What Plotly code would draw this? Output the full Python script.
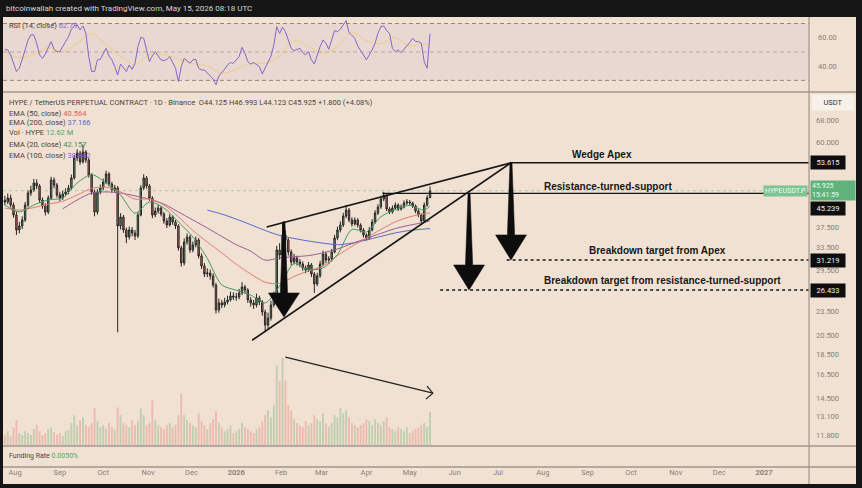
import numpy as np
import pandas as pd
import plotly.graph_objects as go

# ---------------- DATA ----------------
bar_start = "2025-07-25"          # 2-day bars, last bar ends 2026-05-15
first_open = 43.50
close = [
    43.10, 44.07, 42.39, 40.10, 36.90, 37.73, 39.00, 42.39, 45.32, 46.08,
    47.91, 47.12, 43.58, 42.15, 40.77, 44.07, 48.72, 47.38, 44.82, 44.07,
    45.07, 45.58, 46.60, 49.26, 55.05, 56.61, 53.86, 56.93, 54.45, 50.09,
    45.58, 40.77, 45.58, 46.60, 48.18, 50.37, 47.65, 46.08, 46.60, 37.73,
    39.66, 36.90, 35.49, 36.90, 36.29, 35.69, 40.10, 46.60, 49.26, 47.12,
    44.07, 40.10, 41.00, 41.69, 40.32, 38.79, 37.94, 39.66, 38.57, 37.73,
    33.39, 30.72, 34.52, 35.49, 33.02, 33.95, 34.91, 31.94, 30.21, 28.90,
    29.06, 28.58, 27.18, 23.66, 24.60, 24.33, 24.73, 25.01, 25.57, 25.40,
    25.43, 26.00, 26.88, 26.43, 25.01, 24.60, 24.33, 25.29, 24.73, 23.39,
    21.75, 22.62, 24.33, 25.57, 33.02, 32.11, 35.89, 34.91, 32.65, 30.89,
    31.58, 30.89, 30.55, 29.88, 29.55, 30.38, 28.90, 27.34, 28.58, 30.55,
    32.29, 31.23, 31.40, 32.65, 35.30, 36.90, 37.94, 39.88, 41.23, 39.00,
    38.15, 39.00, 37.94, 36.90, 35.89, 35.30, 36.90, 38.57, 40.55, 41.92,
    43.82, 44.82, 41.46, 40.77, 41.69, 42.39, 41.46, 41.92, 42.86, 43.10,
    42.86, 42.15, 41.00, 40.10, 38.79, 42.39, 44.125, 45.925,
]
high = [
    44.6, 45.2, 44.9, 43.0, 40.8, 38.6, 39.8, 43.1, 46.0, 47.2,
    49.0, 48.9, 47.6, 44.2, 42.8, 44.7, 49.6, 49.4, 47.9, 45.6,
    45.9, 46.5, 47.4, 50.2, 55.9, 57.8, 57.3, 59.3, 57.5, 55.0,
    50.6, 46.2, 46.3, 47.5, 49.1, 51.3, 50.9, 48.2, 47.4, 47.1,
    40.5, 40.1, 37.4, 37.6, 37.5, 36.9, 40.7, 47.3, 50.3, 49.8,
    47.6, 44.5, 41.8, 42.4, 42.1, 40.8, 39.4, 40.3, 40.1, 39.0,
    38.1, 33.8, 35.2, 36.2, 35.9, 34.6, 35.6, 35.3, 32.4, 30.7,
    29.8, 29.6, 29.0, 27.5, 25.2, 25.0, 25.3, 25.6, 26.2, 26.1,
    26.0, 26.6, 27.6, 27.2, 26.7, 25.4, 25.0, 25.9, 25.6, 25.0,
    23.7, 23.3, 24.9, 26.2, 33.8, 34.3, 38.6, 36.8, 35.3, 33.1,
    32.3, 32.0, 31.4, 31.0, 30.3, 30.9, 30.7, 29.2, 29.1, 31.1,
    32.9, 32.7, 31.9, 33.2, 35.9, 37.6, 38.7, 40.6, 42.4, 41.7,
    39.6, 39.6, 39.4, 38.3, 37.3, 36.2, 37.5, 39.2, 41.2, 42.6,
    44.6, 45.6, 45.1, 41.9, 42.3, 43.0, 42.8, 42.5, 43.5, 43.8,
    43.6, 43.2, 42.5, 41.4, 40.5, 43.0, 44.8, 46.993,
]
low = [
    42.3, 42.6, 41.8, 39.5, 35.9, 36.2, 37.1, 38.6, 41.9, 44.6,
    45.6, 46.3, 42.9, 41.5, 40.0, 40.3, 43.7, 46.5, 44.2, 43.3,
    43.6, 44.5, 45.0, 46.1, 48.8, 54.1, 53.0, 53.4, 53.6, 49.4,
    44.9, 39.8, 40.2, 45.0, 46.0, 47.6, 47.0, 45.4, 45.5, 20.9,
    37.0, 36.3, 34.3, 35.0, 35.6, 34.9, 35.3, 39.8, 46.1, 46.4,
    43.4, 39.4, 39.6, 40.4, 39.8, 38.2, 37.3, 37.6, 38.0, 37.1,
    32.9, 30.1, 30.3, 34.0, 32.5, 32.6, 33.5, 31.5, 29.7, 28.4,
    28.4, 28.0, 26.8, 23.2, 23.3, 23.9, 24.0, 24.4, 24.8, 25.0,
    24.9, 25.1, 25.7, 25.9, 24.6, 24.1, 23.8, 24.0, 24.3, 22.9,
    20.9, 21.3, 22.3, 24.0, 25.3, 31.3, 31.8, 34.0, 32.0, 30.3,
    30.5, 30.3, 30.0, 29.4, 29.0, 29.2, 28.4, 26.0, 27.0, 28.3,
    30.2, 30.7, 30.6, 31.0, 32.4, 34.9, 36.4, 37.5, 39.4, 38.5,
    37.6, 37.8, 37.4, 36.4, 35.4, 34.8, 35.0, 36.6, 38.2, 40.1,
    41.5, 43.3, 41.0, 40.3, 40.4, 41.3, 41.0, 41.1, 41.6, 42.4,
    42.3, 41.7, 40.5, 39.6, 38.3, 38.5, 42.0, 44.123,
]
volume_m = [
    3.8, 5.3, 3.4, 6.8, 9.5, 4.6, 3.8, 5.3, 4.6, 3.8,
    6.1, 7.6, 5.3, 3.8, 4.6, 6.1, 6.8, 4.9, 3.8, 4.6,
    3.4, 5.3, 5.7, 8.4, 11.4, 7.6, 9.5, 10.6, 7.6, 6.8,
    8.4, 14.1, 9.1, 6.8, 7.6, 6.1, 8.4, 6.8, 5.7, 14.4,
    11.4, 8.4, 7.6, 6.8, 9.5, 7.6, 9.1, 14.1, 11.4, 7.6,
    8.4, 17.1, 9.5, 7.6, 6.8, 6.1, 7.6, 8.4, 6.8, 7.6,
    11.4, 19.8, 11.4, 9.5, 8.4, 7.6, 6.8, 12.2, 9.1, 7.6,
    6.1, 8.4, 9.9, 12.9, 8.4, 6.8, 5.3, 6.1, 7.6, 4.6,
    5.3, 6.1, 8.4, 6.8, 6.1, 5.3, 4.6, 6.1, 6.8, 9.1,
    11.4, 13.3, 10.6, 15.2, 30.4, 24.7, 33.4, 24.7, 15.2, 13.3,
    9.9, 8.4, 7.6, 6.8, 9.1, 7.6, 8.4, 11.4, 9.9, 9.1,
    12.2, 8.4, 6.8, 8.4, 11.4, 10.6, 14.1, 12.2, 13.3, 10.6,
    8.4, 7.6, 6.8, 7.6, 8.4, 9.9, 9.1, 7.6, 9.9, 8.4,
    7.6, 9.1, 10.6, 6.8, 6.1, 5.3, 6.8, 6.1, 5.3, 6.8,
    4.6, 5.3, 6.1, 6.8, 7.6, 8.4, 6.8, 12.62,
]
rsi14 = [
    51.9, 51.4, 47.9, 42.0, 36.2, 38.5, 44.4, 51.4, 58.5, 62.0,
    62.0, 56.1, 47.9, 45.5, 48.6, 52.6, 57.3, 51.9, 50.2, 50.2,
    53.8, 56.6, 60.8, 66.0, 68.3, 69.0, 65.5, 68.3, 63.1, 46.7,
    36.2, 36.2, 44.4, 44.8, 49.1, 52.6, 47.2, 44.4, 39.7, 33.8,
    41.5, 38.5, 36.2, 40.8, 37.8, 42.0, 53.8, 60.3, 59.6, 51.4,
    43.2, 47.2, 50.2, 47.2, 44.4, 43.9, 44.8, 46.7, 42.5, 38.5,
    29.1, 39.7, 45.5, 43.9, 42.0, 44.4, 44.8, 38.5, 37.3, 37.3,
    35.4, 33.1, 30.8, 26.8, 33.1, 35.4, 37.8, 40.8, 42.5, 42.0,
    44.4, 46.7, 53.3, 49.1, 43.2, 41.5, 42.5, 40.8, 39.7, 34.5,
    38.5, 42.0, 47.0, 55.0, 67.8, 63.1, 67.4, 64.3, 58.9, 52.6,
    50.9, 51.9, 52.6, 49.5, 47.9, 50.2, 44.4, 41.5, 47.9, 53.8,
    58.5, 56.1, 51.9, 58.9, 65.0, 64.3, 66.0, 69.0, 72.1, 63.6,
    61.3, 59.6, 54.2, 51.4, 47.9, 44.4, 47.9, 51.4, 56.1, 63.1,
    67.8, 68.3, 65.0, 63.1, 52.6, 50.2, 51.4, 49.5, 51.9, 54.2,
    56.6, 59.6, 57.3, 57.3, 56.1, 43.2, 38.5, 62.79,
]
# moving averages sampled every 10 days from 2025-07-25, plus the last bar
ema_start = "2025-07-25"
ema20 = [42.4, 40.8, 42.4, 43.6, 44.1, 47.9, 50.2, 47.9, 44.8, 40.5, 43.1, 41.7, 38.6, 35.5, 31.5,
         27.2, 26.4, 25.7, 24.6, 27.0, 30.6, 29.6, 29.9, 32.2, 37.0, 36.5, 39.7, 41.3, 42.3, 41.2, 42.157]
ema50 = [41.7, 41.2, 41.8, 42.6, 43.3, 44.8, 46.5, 46.8, 45.6, 43.8, 43.8, 42.4, 39.7, 36.8, 34.5,
         32.5, 30.5, 28.9, 27.6, 27.4, 28.5, 29.4, 30.2, 32.0, 33.7, 35.3, 37.0, 38.6, 39.7, 40.4, 40.564]
ema100 = [None, None, None, None, 41.5, 43.6, 45.3, 45.6, 45.3, 44.6, 43.8, 42.6, 40.8, 39.0, 37.3,
          35.6, 34.0, 32.8, 31.2, 31.6, 31.8, 32.0, 32.5, 33.2, 34.2, 35.2, 36.2, 37.2, 37.9, 38.5, 38.842]
ema200 = [None] * 14 + [41.2, 40.3, 39.2, 38.0, 36.8, 35.8, 35.2, 34.7, 34.3, 34.0, 34.3, 34.9, 35.6,
                        36.3, 36.8, 37.1, 37.166]
rsi_ma = [50, 46, 48, 53, 50, 56, 63, 55, 47, 41, 48, 48, 45, 42, 40, 35, 38, 42, 42, 47, 58, 54, 49,
          54, 64, 58, 56, 60, 54, 56, 55]

price_ticks = [68, 60, 37.5, 33.5, 29.5, 23.5, 20.5, 18.5, 16.5, 14.5, 13.1, 11.8]
rsi_ticks = [40, 60]

# key levels of the drawing
apex_price = 53.615
rts_price = 45.239
target_apex = 31.219
target_rts = 26.433
last_price = 45.925

apex_date = "2026-07-10"
rts_break_date = "2026-06-11"
wedge_upper = (["2026-01-22", apex_date], [37.52, apex_price])
wedge_lower = (["2026-01-12", apex_date], [20.0, apex_price])
rts_start = "2026-04-12"
target_apex_start = "2026-07-07"
target_rts_start = "2026-05-22"
arrow_left = ("2026-02-03", 38.6, 26.0, 22.75)       # date, top, head base, tip
arrow_rts = (rts_break_date, rts_price, 30.38, target_rts)
arrow_apex = (apex_date, apex_price, 35.9, target_apex)
vol_arrow = (["2026-02-04", "2026-05-17"], [18.2, 14.9])
vol_arrow_head = (["2026-05-12 22:00", "2026-05-17", "2026-05-12 04:00"], [15.5, 14.9, 14.41])

x_start, x_end = "2025-07-23 17:00", "2027-02-01 02:00"

# ---------------- FIGURE ----------------
W, H = 862, 488
def fx(p): return p / W
def fy(p): return 1 - p / H

BG = "#f1e1d3"
FRAME = "#151515"
SEP = "#a0968d"
AXTXT = "#8a8079"
TXT = "#4a433d"
INK = "#161616"
FONT = "Roboto, 'Liberation Sans', Arial, sans-serif"

dates = pd.date_range(bar_start, periods=len(close), freq="2D")
opens = [first_open] + close[:-1]
ema_dates = list(pd.date_range(ema_start, periods=30, freq="10D")) + [dates[-1]]
up = [c >= o for c, o in zip(close, opens)]

fig = go.Figure()

# volume (overlay axis)
fig.add_trace(go.Bar(
    x=dates, y=volume_m, yaxis="y4", xaxis="x",
    marker=dict(color=["rgba(96,170,110,0.34)" if u else "rgba(230,110,105,0.34)" for u in up],
                line=dict(width=0)),
    width=1.3 * 86400000, showlegend=False, hoverinfo="skip"))

# EMAs
for vals, col in [(ema200, "#5868c8"), (ema100, "#9a5a92"), (ema50, "#e27a72"), (ema20, "#3f9a5c")]:
    fig.add_trace(go.Scatter(x=ema_dates, y=vals, mode="lines", xaxis="x", yaxis="y",
                             line=dict(color=col, width=1, shape="spline", smoothing=0.8),
                             showlegend=False, hoverinfo="skip"))

# last-price dotted line
fig.add_trace(go.Scatter(x=[x_start, x_end], y=[last_price, last_price], mode="lines",
                         line=dict(color="rgba(110,170,120,0.45)", width=1, dash="dot"),
                         showlegend=False, hoverinfo="skip"))

# candles
fig.add_trace(go.Candlestick(
    x=dates, open=opens, high=high, low=low, close=close, xaxis="x", yaxis="y",
    increasing=dict(line=dict(color="#262626", width=1), fillcolor="#58a870"),
    decreasing=dict(line=dict(color="#262626", width=1), fillcolor="#d85f58"),
    whiskerwidth=0, showlegend=False, hoverinfo="skip"))

# drawings: wedge lines
for xs, ys in [wedge_upper, wedge_lower]:
    fig.add_trace(go.Scatter(x=xs, y=ys, mode="lines", line=dict(color=INK, width=1.7),
                             showlegend=False, hoverinfo="skip"))
# horizontal levels
fig.add_trace(go.Scatter(x=[apex_date, x_end], y=[apex_price, apex_price], mode="lines",
                         line=dict(color=INK, width=1.5), showlegend=False, hoverinfo="skip"))
fig.add_trace(go.Scatter(x=[rts_start, x_end], y=[rts_price, rts_price], mode="lines",
                         line=dict(color=INK, width=1.3), showlegend=False, hoverinfo="skip"))
for st, lv in [(target_apex_start, target_apex), (target_rts_start, target_rts)]:
    fig.add_trace(go.Scatter(x=[st, x_end], y=[lv, lv], mode="lines",
                             line=dict(color=INK, width=1.5, dash="dot"),
                             showlegend=False, hoverinfo="skip"))

# thick arrows (polygons)
def arrow_poly(spec, st=0.7, sb=2.5, hw=10.7):
    c, top, head, tip = spec
    c = pd.Timestamp(c)
    d = lambda k: c + pd.Timedelta(days=k)
    xs = [d(-st), d(st), d(sb), d(hw), d(0), d(-hw), d(-sb), d(-st)]
    ys = [top, top, head, head, tip, head, head, top]
    return xs, ys

for spec in [arrow_left, arrow_rts, arrow_apex]:
    xs, ys = arrow_poly(spec)
    fig.add_trace(go.Scatter(x=xs, y=ys, mode="lines", fill="toself", fillcolor="#0d0d0d",
                             line=dict(color="#0d0d0d", width=0.5), showlegend=False, hoverinfo="skip"))

# thin arrow over volume
fig.add_trace(go.Scatter(x=vol_arrow[0], y=vol_arrow[1], mode="lines",
                         line=dict(color="#222", width=1.2), showlegend=False, hoverinfo="skip"))
fig.add_trace(go.Scatter(x=vol_arrow_head[0], y=vol_arrow_head[1], mode="lines",
                         line=dict(color="#222", width=1.2), showlegend=False, hoverinfo="skip"))

# RSI pane
fig.add_trace(go.Scatter(x=ema_dates, y=rsi_ma, mode="lines", xaxis="x", yaxis="y2",
                         line=dict(color="rgba(240,200,60,0.55)", width=1, shape="spline"),
                         showlegend=False, hoverinfo="skip"))
fig.add_trace(go.Scatter(x=dates, y=rsi14, mode="lines", xaxis="x", yaxis="y2",
                         line=dict(color="#8467c9", width=1), showlegend=False, hoverinfo="skip"))
# funding pane placeholder
fig.add_trace(go.Scatter(x=[dates[0]], y=[0.5], mode="markers", xaxis="x", yaxis="y3",
                         marker=dict(opacity=0), showlegend=False, hoverinfo="skip"))

months = pd.date_range("2025-08-01", "2027-01-01", freq="MS")
month_text = [f"<b>{m.year}</b>" if m.month == 1 else m.strftime("%b") for m in months]

shapes = [
    dict(type="rect", xref="paper", yref="paper", x0=fx(3), x1=fx(856), y0=fy(484), y1=fy(17),
         fillcolor=BG, line=dict(width=0), layer="below"),
    dict(type="rect", xref="paper", yref="y2", x0=fx(3), x1=fx(809), y0=30, y1=70,
         fillcolor="rgba(126,87,194,0.07)", line=dict(width=0), layer="below"),
]
for lv, col in [(70, "#8f8580"), (30, "#8f8580"), (50, "rgba(143,133,128,0.55)")]:
    shapes.append(dict(type="line", xref="paper", yref="y2", x0=fx(3), x1=fx(809), y0=lv, y1=lv,
                       line=dict(color=col, width=1, dash="4px,3px"), layer="below"))
for py in [92, 446, 467]:
    shapes.append(dict(type="line", xref="paper", yref="paper", x0=fx(3), x1=fx(856),
                       y0=fy(py), y1=fy(py), line=dict(color=SEP, width=1.5)))
shapes.append(dict(type="line", xref="paper", yref="paper", x0=fx(809), x1=fx(809),
                   y0=fy(484), y1=fy(17), line=dict(color=SEP, width=1.2)))

ann = []
def text(x, y, s, size=7.5, color=TXT, **kw):
    d = dict(xref="paper", yref="paper", x=fx(x), y=fy(y), text=s, showarrow=False,
             xanchor="left", yanchor="middle", font=dict(family=FONT, size=size, color=color))
    d.update(kw)
    ann.append(d)

text(4, 8, "bitcoinwallah created with TradingView.com, May 15, 2026 08:18 UTC", size=8, color="#d8d8d8")
text(7, 25, "RSI (14, close) <span style='color:#8467c9'>62.79</span>")
text(7, 102, "HYPE / TetherUS PERPETUAL CONTRACT · 1D · Binance  O44.125 H46.993 L44.123 C45.925 +1.800 (+4.08%)")
text(7, 113, "EMA (50, close) <span style='color:#e05a54'>40.564</span>")
text(7, 123, "EMA (200, close) <span style='color:#5868c8'>37.166</span>")
text(7, 133, "Vol · HYPE <span style='color:#4aa865'>12.62 M</span>")
text(7, 144, "EMA (20, close) <span style='color:#3f8a55'>42.157</span>")
text(7, 155, "EMA (100, close) <span style='color:#8a5ad0'>38.842</span>")
text(7, 456, "Funding Rate <span style='color:#4aa865'>0.0050%</span>", size=7)
text(833, 102, "USDT", size=7.5, color="#333", xanchor="center", bgcolor="#f8f1ea", width=40, height=13)

# drawing labels
lab_font = dict(family="'Liberation Sans', Arial, sans-serif", size=10, color=INK)
for s, d, lv, sh in [("<b>Wedge Apex</b>", "2026-09-11", apex_price, 8),
                     ("<b>Resistance-turned-support</b>", "2026-09-15", rts_price, 7),
                     ("<b>Breakdown target from Apex</b>", "2026-10-19", target_apex, 10),
                     ("<b>Breakdown target from resistance-turned-support</b>", "2026-10-23", target_rts, 10)]:
    ann.append(dict(xref="x", yref="y", x=d, y=np.log10(lv), yshift=sh, text=s, showarrow=False,
                    xanchor="center", yanchor="middle", font=lab_font))

# price-axis labels
for lv, shift in [(apex_price, 0), (rts_price, -15), (target_apex, 0), (target_rts, 0)]:
    ann.append(dict(xref="paper", yref="y", x=fx(810), y=np.log10(lv), yshift=shift,
                    text=f"{lv:.3f}", showarrow=False, xanchor="left", yanchor="middle",
                    bgcolor="#0e0e0e", borderpad=2, width=30,
                    font=dict(family=FONT, size=7.5, color="#f2f2f2")))
ann.append(dict(xref="paper", yref="y", x=fx(810), y=np.log10(last_price), text=f"{last_price:.3f}<br>15:41:59",
                showarrow=False, xanchor="left", yanchor="middle", bgcolor="#5fb27a", borderpad=1,
                width=42, align="left", font=dict(family=FONT, size=7, color="#eafff0")))
ann.append(dict(xref="paper", yref="y", x=fx(808), y=np.log10(last_price), text="HYPEUSDT.P",
                showarrow=False, xanchor="right", yanchor="middle", bgcolor="#7cc492", borderpad=1,
                font=dict(family=FONT, size=7, color="#effff3")))

tick_font = dict(family=FONT, size=7.5, color=AXTXT)
fig.update_layout(
    width=W, height=H, margin=dict(l=0, r=0, t=0, b=0),
    paper_bgcolor=FRAME, plot_bgcolor=BG, showlegend=False,
    shapes=shapes, annotations=ann, hovermode=False,
    xaxis=dict(domain=[fx(3), fx(809)], type="date", range=[x_start, x_end], anchor="y3",
               tickvals=list(months), ticktext=month_text, tickfont=tick_font, ticks="",
               showgrid=False, zeroline=False, showline=False, rangeslider=dict(visible=False)),
    yaxis=dict(domain=[fy(445), fy(93)], type="log", range=[np.log10(11.17), np.log10(79.0)],
               side="right", anchor="x", tickvals=price_ticks, ticktext=[f"{v:.3f}" for v in price_ticks],
               tickfont=tick_font, ticks="", showgrid=False, zeroline=False, showline=False,
               ticklabelstandoff=6),
    yaxis2=dict(domain=[fy(91), fy(17)], range=[22.5, 74.6], side="right", anchor="x",
                tickvals=rsi_ticks, ticktext=[f"{v:.2f}" for v in rsi_ticks], tickfont=tick_font,
                ticks="", showgrid=False, zeroline=False, showline=False, ticklabelstandoff=8),
    yaxis3=dict(domain=[fy(466), fy(447)], range=[0, 1], anchor="x", showticklabels=False,
                ticks="", showgrid=False, zeroline=False, showline=False),
    yaxis4=dict(overlaying="y", range=[0, 135], visible=False, showgrid=False),
)

fig.write_html("out.html")
